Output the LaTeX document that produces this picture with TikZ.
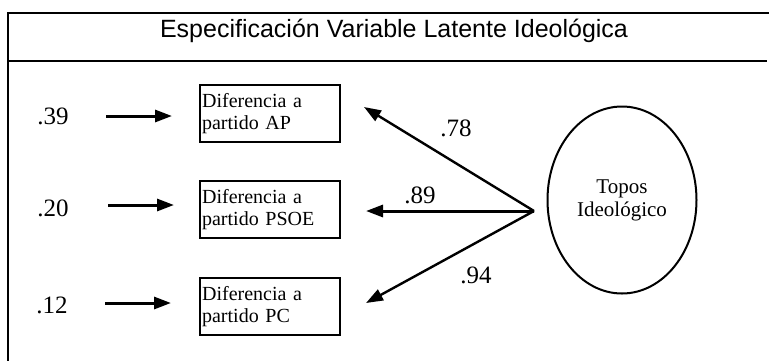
\documentclass[tikz,border=0pt]{standalone}
\usepackage{fontspec}
\setmainfont{Liberation Serif}
\newfontfamily\arialfont{Liberation Sans}
\usetikzlibrary{arrows.meta,shapes.geometric}
\tikzset{
  frameline/.style={line width=2.2pt, line cap=rect},
  varbox/.style={draw, line width=2.2pt, anchor=north west, minimum width=140pt, minimum height=57pt,
    text width=136pt, inner xsep=2pt, inner ysep=0pt, align=left, font=\fontsize{20}{22}\selectfont},
  latent/.style={draw, ellipse, line width=2pt, minimum width=149pt, minimum height=187pt, inner sep=0pt,
    align=center, font=\fontsize{21}{23}\selectfont},
  coef/.style={inner sep=0pt, font=\fontsize{25}{27}\selectfont},
  errarrow/.style={line width=3pt, -{Triangle[length=17pt,width=12pt]}},
  loadarrow/.style={line width=2.4pt, -{Triangle[length=17pt,width=12pt]}},
}
\begin{document}
\begin{tikzpicture}[x=1pt,y=-1pt]
\useasboundingbox (0,0) rectangle (769,360);
% frame
\coordinate (fbl) at (8,360);
\coordinate (ftl) at (8,13);
\coordinate (ftr) at (769,13);
\coordinate (hl) at (8,61);
\coordinate (hr) at (766,61);
\draw[frameline] (fbl) -- (ftl) -- (ftr);
\draw[frameline] (hl) -- (hr);
\node[inner sep=0pt, anchor=base, font=\arialfont\fontsize{25}{27}\selectfont] (title) at (394,37) {Especificación Variable Latente Ideológica};
% boxes
\node[varbox] (ap) at (199,84) {Diferencia a\\partido AP};
\node[varbox] (psoe) at (199,180) {Diferencia a\\partido PSOE};
\node[varbox] (pc) at (199,277) {Diferencia a\\partido PC};
% latent
\node[latent] (topos) at (622,200) {Topos\\Ideológico};
% error labels
\node[coef] (e1) at (53,116) {.39};
\node[coef] (e2) at (53,208) {.20};
\node[coef] (e3) at (52,305) {.12};
% error arrows
\coordinate (s1) at (106,116); \coordinate (t1) at (172,116);
\coordinate (s2) at (108,205); \coordinate (t2) at (174,205);
\coordinate (s3) at (105,303); \coordinate (t3) at (171,303);
\draw[errarrow] (s1) -- (t1);
\draw[errarrow] (s2) -- (t2);
\draw[errarrow] (s3) -- (t3);
% loadings
\coordinate (hub) at (534,211);
\coordinate (l1) at (364,107);
\coordinate (l2) at (366,211);
\coordinate (l3) at (366,303);
\draw[loadarrow] (hub) -- (l1);
\draw[loadarrow, line width=3pt] (hub) -- (l2);
\draw[loadarrow] (hub) -- (l3);
\node[coef] (c1) at (456,128) {.78};
\node[coef] (c2) at (420,195) {.89};
\node[coef] (c3) at (476,275) {.94};
\end{tikzpicture}
\end{document}
